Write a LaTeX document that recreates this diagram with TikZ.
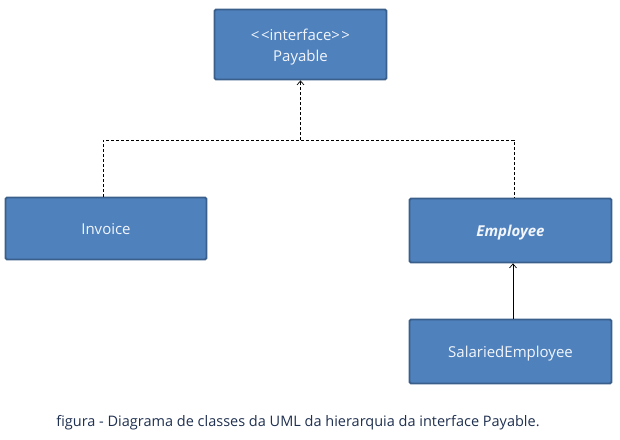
\documentclass[tikz,border=0pt]{standalone}
\usepackage{fontspec}
\setmainfont{Open Sans}
\usetikzlibrary{arrows.meta}
\definecolor{boxfill}{HTML}{4F81BD}
\definecolor{boxline}{HTML}{3A5F8B}
\definecolor{boxtext}{HTML}{F2F6FC}
\definecolor{captext}{HTML}{1F3050}
\begin{document}
\begin{tikzpicture}[x=1pt,y=-1pt,
  classbox/.style={draw=boxline,line width=1.8pt,fill=boxfill,rounded corners=1.5pt,
    text=boxtext,font=\fontsize{15}{21}\selectfont,align=center,inner sep=0pt,
    text height=12pt,text depth=1pt},
  realize/.style={densely dashed,line width=0.7pt,-{Straight Barb[length=4pt,width=7pt,line width=0.7pt]}},
  inherit/.style={line width=0.8pt,-{Straight Barb[length=4pt,width=7pt,line width=0.7pt]}}]
\useasboundingbox (0,0) rectangle (620,439);
\node[classbox,minimum width=172pt,minimum height=70pt,text height=35pt] (pay) at (300.5,44.5) {<\kern1.5pt<interface>\kern1.5pt>\\Payable};
\node[classbox,minimum width=201pt,minimum height=62pt] (inv) at (106,228.5) {Invoice};
\node[classbox,minimum width=202pt,minimum height=64pt] (emp) at (510.5,230.5) {\textbf{\itshape Employee}};
\node[classbox,minimum width=202pt,minimum height=64pt] (sal) at (510.5,351.5) {SalariedEmployee};
\coordinate (j) at (300.5,140);
\draw[densely dashed,line width=0.7pt] (inv.north -| 103,0) |- (514,140) -- (emp.north -| 514,0);
\draw[realize] (j) -- (pay.south);
\draw[inherit] (sal.north -| 513,0) -- (emp.south -| 513,0);
\node[text=captext,font=\fontsize{14.5}{16}\selectfont] (cap) at (298,423) {figura - Diagrama de classes da UML da hierarquia da interface Payable.};
\end{tikzpicture}
\end{document}
